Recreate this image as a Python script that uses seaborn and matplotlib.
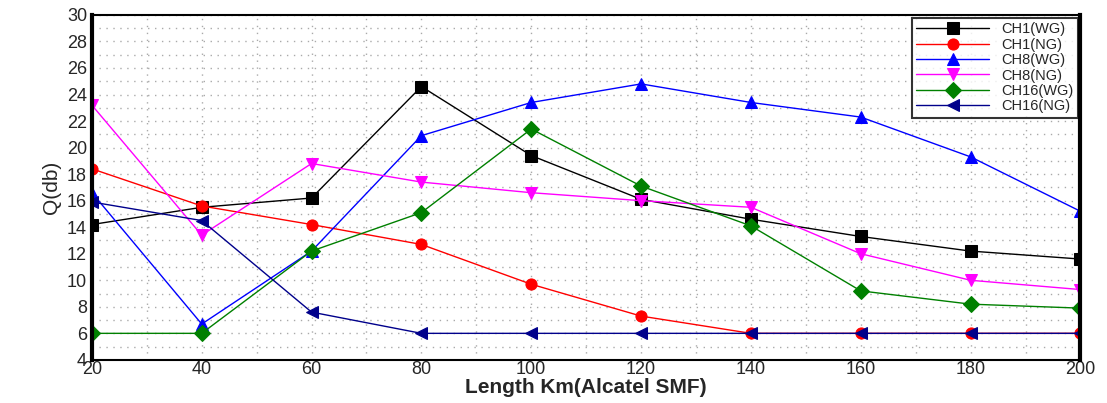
import pandas as pd
import matplotlib.pyplot as plt
import seaborn as sns

# data
length_km = [20, 40, 60, 80, 100, 120, 140, 160, 180, 200]
ch1_wg = [14.2, 15.5, 16.2, 24.6, 19.4, 16.1, 14.6, 13.3, 12.2, 11.6]
ch1_ng = [18.4, 15.6, 14.2, 12.7, 9.7, 7.3, 6.0, 6.0, 6.0, 6.0]
ch8_wg = [16.6, 6.7, 12.2, 20.9, 23.4, 24.8, 23.4, 22.3, 19.3, 15.2]
ch8_ng = [23.2, 13.4, 18.8, 17.4, 16.6, 16.0, 15.5, 12.0, 10.0, 9.3]
ch16_wg = [6.0, 6.0, 12.2, 15.1, 21.4, 17.1, 14.1, 9.2, 8.2, 7.9]
ch16_ng = [15.9, 14.5, 7.6, 6.0, 6.0, 6.0, 6.0, 6.0, 6.0, 6.0]

series = {
    "CH1(WG)": (ch1_wg, "black", "s"),
    "CH1(NG)": (ch1_ng, "red", "o"),
    "CH8(WG)": (ch8_wg, "blue", "^"),
    "CH8(NG)": (ch8_ng, "magenta", "v"),
    "CH16(WG)": (ch16_wg, "green", "D"),
    "CH16(NG)": (ch16_ng, "darkblue", "<"),
}

sns.set_style("white")
plt.rcParams['font.family'] = ['Liberation Sans', 'DejaVu Sans']

fig = plt.figure(figsize=(11.07, 4.03), dpi=100)
ax = fig.add_axes([0.083, 0.107, 0.893, 0.856])

for name, (vals, col, mk) in series.items():
    df = pd.DataFrame({"x": length_km, "y": vals})
    sns.lineplot(data=df, x="x", y="y", ax=ax, color=col, marker=mk,
                 markersize=8, linewidth=1, markeredgecolor=col, label=name)

ax.set_xlim(20, 200)
ax.set_ylim(4, 30)
ax.set_xticks(range(20, 201, 20))
ax.set_yticks(range(4, 31, 2))
ax.set_xticks(range(30, 200, 20), minor=True)
ax.set_yticks(range(5, 30, 2), minor=True)
ax.grid(True, which="both", color="#aaaaaa", linestyle=(0, (1, 4)), linewidth=1)
ax.tick_params(labelsize=13, length=0)
ax.tick_params(axis="x", pad=1)

for s in ax.spines.values():
    s.set_color("black")
    s.set_linewidth(1.5)
ax.spines["left"].set_linewidth(3)
ax.spines["right"].set_linewidth(3)

ax.set_xlabel("Length Km(Alcatel SMF)", fontsize=15, fontweight="bold", labelpad=0)
ax.set_ylabel("Q(db)", fontsize=15, labelpad=4)

leg = ax.legend(loc="upper right", fontsize=10.5, frameon=True, fancybox=False,
                edgecolor="black", borderaxespad=0.2, handlelength=5,
                labelspacing=0.1, borderpad=0.3)
leg.get_frame().set_linewidth(1.5)

fig.savefig("out.png", dpi=100)
